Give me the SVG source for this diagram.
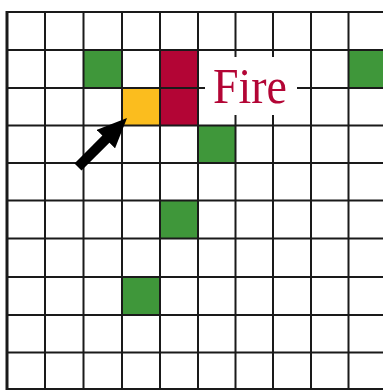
<svg xmlns="http://www.w3.org/2000/svg" width="383" height="390" viewBox="0 0 383 390">
<style>
.bg{fill:#ffffff}
.grid line{stroke:#1a1a1a;stroke-width:2}
.green{fill:#3f973a}
.red{fill:#b30535}
.yellow{fill:#fbbd1e}
.lbl{font-family:"Liberation Serif","Times New Roman",serif;font-size:51px;fill:#b30535}
.arrow{stroke:#000;stroke-width:10;fill:none}
</style>
<defs>
<marker id="ah" viewBox="0 -13 30 26" refX="10" refY="0" markerWidth="30" markerHeight="26" markerUnits="userSpaceOnUse" orient="auto">
<path d="M0,-13 L30,0 L0,13 z" fill="#000"/>
</marker>
</defs>
<rect class="bg" x="0" y="0" width="383" height="390"/>
<g id="cells">
<rect id="cell-green-1" class="green" x="83.5" y="50" width="38.5" height="38"/>
<rect id="cell-fire" class="red" x="160" y="50" width="38" height="75.5"/>
<rect id="cell-agent" class="yellow" x="122" y="88" width="38" height="37.5"/>
<rect id="cell-green-2" class="green" x="198" y="125.5" width="37.5" height="37.5"/>
<rect id="cell-green-3" class="green" x="348.5" y="50" width="34.5" height="38"/>
<rect id="cell-green-4" class="green" x="160" y="200.5" width="38" height="38"/>
<rect id="cell-green-5" class="green" x="122" y="277" width="38" height="38"/>
</g>
<g class="grid" id="grid">
<line x1="45" y1="12" x2="45" y2="390"/>
<line x1="83.5" y1="12" x2="83.5" y2="390"/>
<line x1="122" y1="12" x2="122" y2="390"/>
<line x1="160" y1="12" x2="160" y2="390"/>
<line x1="198" y1="12" x2="198" y2="390"/>
<line x1="235.5" y1="12" x2="235.5" y2="390"/>
<line x1="273" y1="12" x2="273" y2="390"/>
<line x1="311" y1="12" x2="311" y2="390"/>
<line x1="348.5" y1="12" x2="348.5" y2="390"/>
<line x1="6" y1="12" x2="383" y2="12"/>
<line x1="6" y1="50" x2="383" y2="50"/>
<line x1="6" y1="88" x2="383" y2="88"/>
<line x1="6" y1="125.5" x2="383" y2="125.5"/>
<line x1="6" y1="163" x2="383" y2="163"/>
<line x1="6" y1="200.5" x2="383" y2="200.5"/>
<line x1="6" y1="238.5" x2="383" y2="238.5"/>
<line x1="6" y1="277" x2="383" y2="277"/>
<line x1="6" y1="315" x2="383" y2="315"/>
<line x1="6" y1="352.5" x2="383" y2="352.5"/>
<line x1="6" y1="389" x2="383" y2="389"/>
<line x1="7" y1="11" x2="7" y2="390" style="stroke-width:3"/>
</g>
<g id="label-fire">
<rect class="bg" x="205" y="57" width="92" height="58"/>
<text class="lbl" x="213" y="103" textLength="74" lengthAdjust="spacingAndGlyphs">Fire</text>
</g>
<g id="connectors">
<line class="arrow" x1="78" y1="167" x2="112.9" y2="132.1" marker-end="url(#ah)"/>
</g>
</svg>
